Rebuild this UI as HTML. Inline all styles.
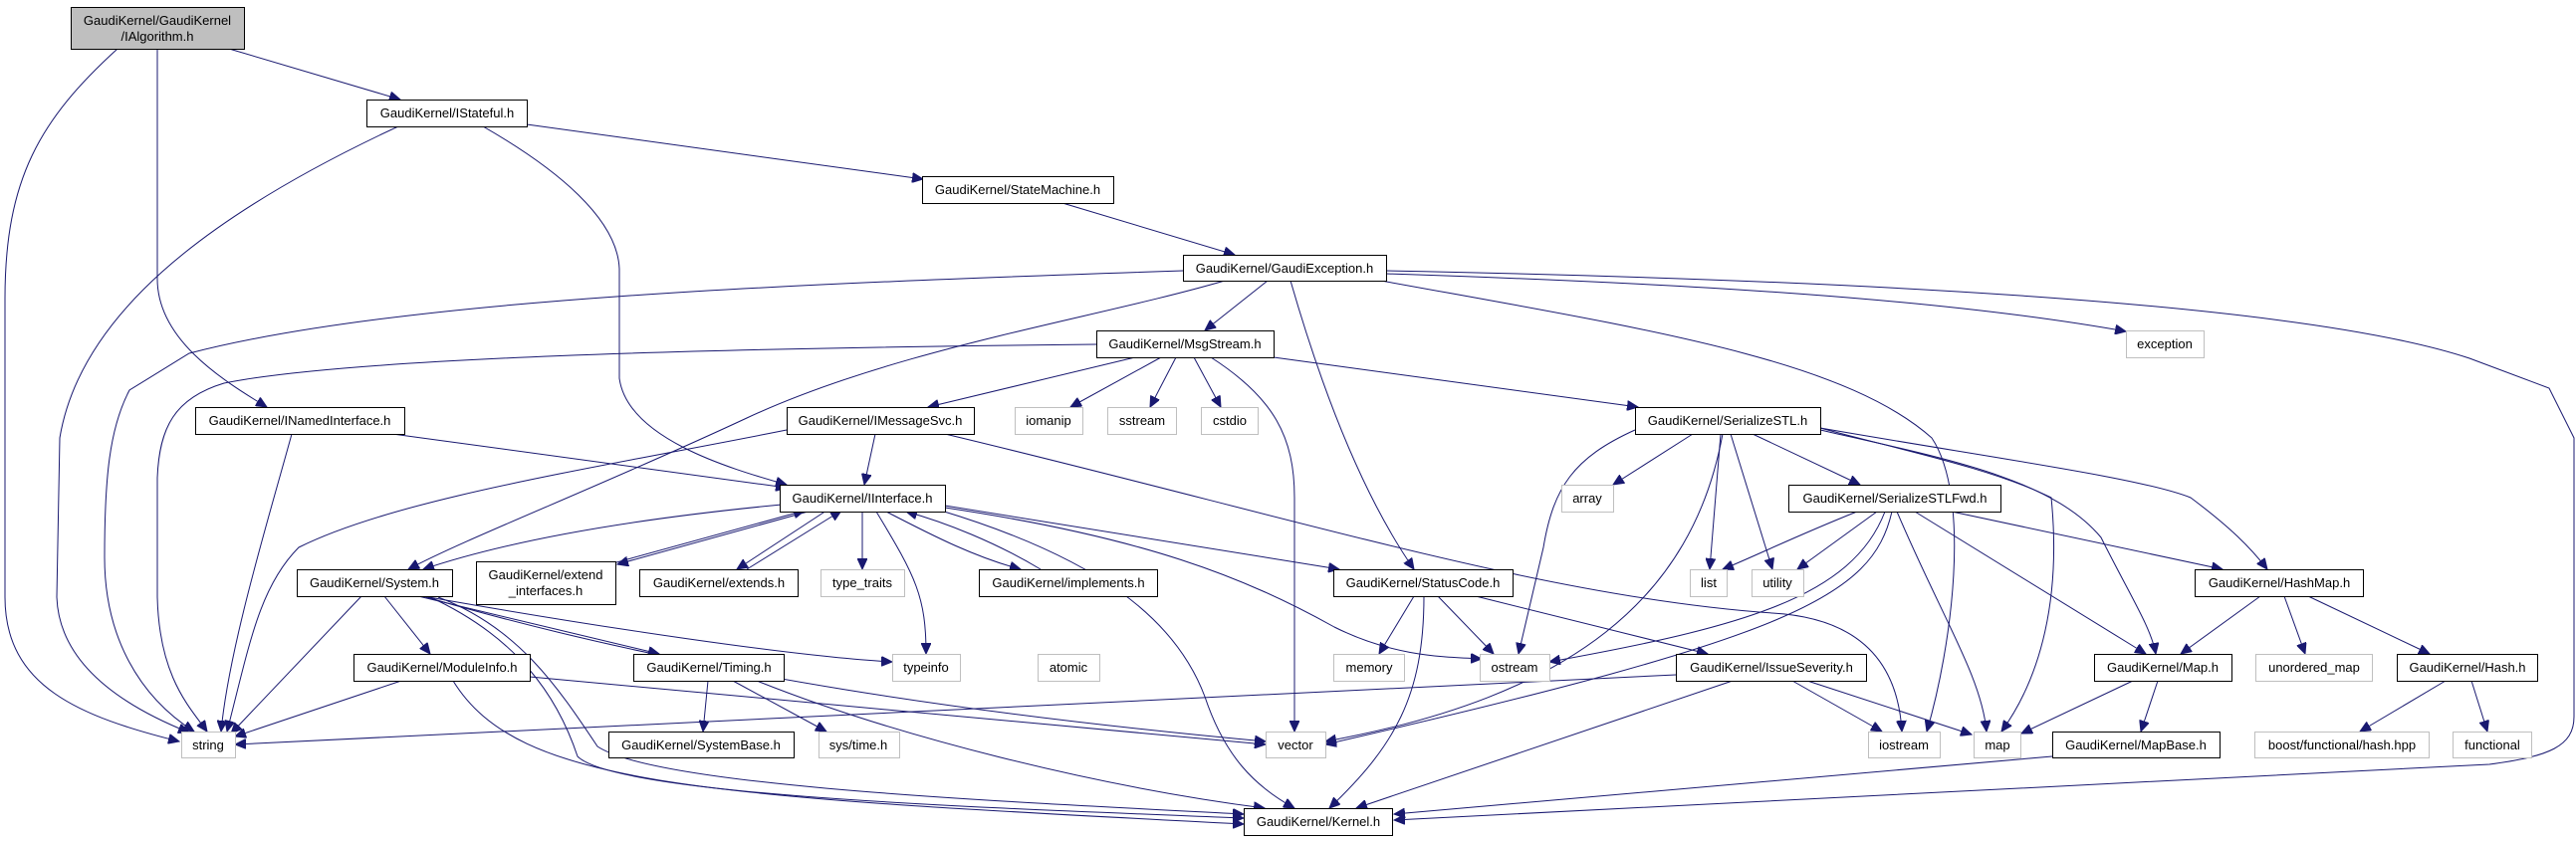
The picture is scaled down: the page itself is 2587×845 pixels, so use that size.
<!DOCTYPE html>
<html><head><meta charset="utf-8"><style>
html,body{margin:0;padding:0;background:#fff;}
svg{display:block;}
text{font-family:"Liberation Sans",sans-serif;font-size:13px;fill:#000;}
.n{fill:#fff;stroke:#000;stroke-width:1;}
.g{fill:#fff;stroke:#bfbfbf;stroke-width:1;}
.e{fill:none;stroke:#191970;stroke-width:1;marker-end:url(#a);}
</style></head><body>
<svg width="2587" height="845" viewBox="0 0 2587 845" xmlns="http://www.w3.org/2000/svg">
<defs><marker id="a" markerUnits="userSpaceOnUse" markerWidth="12" markerHeight="10" refX="11" refY="5" orient="auto"><path d="M0,0 L11,5 L0,10 z" fill="#191970" stroke="#191970"/></marker></defs>
<g>
<path class="e" d="M118,49 C40,120 5,180 5,300 L5,600 C5,690 80,720 180,745"/>
<path class="e" d="M158,49 L158,280 C158,340 220,380 268,409"/>
<path class="e" d="M230,49 L402,100"/>
<path class="e" d="M400,127 C200,220 80,320 60,440 L57,600 C60,680 150,720 190,736"/>
<path class="e" d="M485,127 C560,170 620,220 622,270 L622,380 C630,440 730,470 790,487"/>
<path class="e" d="M529,125 L927,180"/>
<path class="e" d="M1067,204 L1240,256"/>
<path class="e" d="M1188,272 C800,285 400,300 190,355 L130,392 C110,430 105,480 105,560 C105,640 140,700 195,735"/>
<path class="e" d="M1101,346 C700,350 350,360 225,385 C175,400 160,430 158,480 L158,600 C160,680 190,710 208,735"/>
<path class="e" d="M1230,282 C1100,320 900,350 750,420 C600,490 470,540 410,572"/>
<path class="e" d="M1273,282 L1210,332"/>
<path class="e" d="M1296,282 C1330,400 1370,500 1420,572"/>
<path class="e" d="M1387,282 C1650,330 1850,360 1940,440 C1980,500 1960,650 1935,735"/>
<path class="e" d="M1392,275 C1700,285 1950,300 2135,333"/>
<path class="e" d="M1392,272 C1800,280 2300,300 2480,360 L2560,390 L2585,440 L2585,720 C2585,750 2560,760 2500,768 L1400,824"/>
<path class="e" d="M1140,359 L932,409"/>
<path class="e" d="M1166,359 L1075,409"/>
<path class="e" d="M1181,359 L1155,409"/>
<path class="e" d="M1199,359 L1226,409"/>
<path class="e" d="M1216,359 C1280,400 1300,440 1300,500 L1300,735"/>
<path class="e" d="M1279,359 L1645,409"/>
<path class="e" d="M293,436 C270,520 230,650 222,735"/>
<path class="e" d="M394,436 L790,490"/>
<path class="e" d="M790,432 C600,470 400,500 300,550 C260,590 250,650 228,735"/>
<path class="e" d="M879,436 L868,487"/>
<path class="e" d="M949,436 C1300,520 1550,600 1780,616 C1850,620 1905,650 1910,735"/>
<path class="e" d="M785,507 C650,520 520,540 425,572"/>
<path class="e" d="M815,513 L620,567"/>
<path class="e" d="M612,567 L808,513"/>
<path class="e" d="M830,513 L740,572"/>
<path class="e" d="M750,572 L845,513"/>
<path class="e" d="M866,514 L866,572"/>
<path class="e" d="M880,514 C920,580 930,600 930,657"/>
<path class="e" d="M890,514 C940,540 980,560 1025,572"/>
<path class="e" d="M1045,572 C1000,545 950,525 910,514"/>
<path class="e" d="M949,508 L1345,572"/>
<path class="e" d="M949,510 C1150,540 1250,580 1340,630 C1400,660 1450,660 1488,662"/>
<path class="e" d="M945,513 C1100,560 1180,620 1210,700 C1230,760 1260,790 1300,812"/>
<path class="e" d="M1700,436 L1620,487"/>
<path class="e" d="M1642,432 C1580,460 1560,490 1550,550 L1525,657"/>
<path class="e" d="M1730,436 C1700,600 1580,700 1331,745"/>
<path class="e" d="M1728,436 L1717,572"/>
<path class="e" d="M1738,436 L1780,572"/>
<path class="e" d="M1760,436 L1868,487"/>
<path class="e" d="M1828,430 C1900,450 2000,470 2060,500 C2070,600 2050,680 2010,735"/>
<path class="e" d="M1828,432 C1950,460 2060,480 2110,540 C2140,600 2160,630 2165,657"/>
<path class="e" d="M1828,430 C2000,460 2150,480 2200,500 C2240,530 2260,550 2277,572"/>
<path class="e" d="M1865,514 C1800,540 1760,560 1730,572"/>
<path class="e" d="M1885,514 L1805,572"/>
<path class="e" d="M1893,514 C1860,600 1750,630 1556,665"/>
<path class="e" d="M1900,514 C1880,600 1800,640 1331,748"/>
<path class="e" d="M1905,514 C1950,620 1990,680 1995,735"/>
<path class="e" d="M1923,514 L2155,657"/>
<path class="e" d="M1960,514 L2232,572"/>
<path class="e" d="M363,599 L232,737"/>
<path class="e" d="M386,599 L432,657"/>
<path class="e" d="M420,599 L662,657"/>
<path class="e" d="M425,599 C600,630 800,660 896,665"/>
<path class="e" d="M425,599 C700,680 1000,720 1271,745"/>
<path class="e" d="M430,599 C520,640 560,700 580,760 C620,800 1000,812 1249,822"/>
<path class="e" d="M440,600 C520,630 560,690 600,750 C660,790 1000,805 1249,818"/>
<path class="e" d="M403,684 L236,740"/>
<path class="e" d="M532,680 L1271,748"/>
<path class="e" d="M455,684 C520,790 700,800 1249,828"/>
<path class="e" d="M711,684 L706,735"/>
<path class="e" d="M736,684 L830,735"/>
<path class="e" d="M760,684 C900,740 1100,790 1270,812"/>
<path class="e" d="M1420,599 L1385,657"/>
<path class="e" d="M1444,599 L1500,657"/>
<path class="e" d="M1430,599 C1430,700 1400,750 1335,812"/>
<path class="e" d="M1482,599 L1715,657"/>
<path class="e" d="M1683,678 L236,748"/>
<path class="e" d="M1740,684 L1362,812"/>
<path class="e" d="M1800,684 L1890,735"/>
<path class="e" d="M1815,684 L1980,738"/>
<path class="e" d="M2270,599 L2190,657"/>
<path class="e" d="M2294,599 L2315,657"/>
<path class="e" d="M2318,599 L2440,657"/>
<path class="e" d="M2142,684 L2030,737"/>
<path class="e" d="M2167,684 L2150,735"/>
<path class="e" d="M2456,684 L2370,735"/>
<path class="e" d="M2482,684 L2498,735"/>
<path class="e" d="M2061,760 L1400,818"/>
</g>
<g text-anchor="middle">
<rect x="71.5" y="7.5" width="174" height="42" fill="#bfbfbf" stroke="#000"/>
<text x="158" y="25">GaudiKernel/GaudiKernel</text><text x="158" y="41">/IAlgorithm.h</text>
<rect class="n" x="368.5" y="100.5" width="161" height="27"/><text x="449" y="118">GaudiKernel/IStateful.h</text>
<rect class="n" x="926.5" y="177.5" width="192" height="27"/><text x="1022" y="195">GaudiKernel/StateMachine.h</text>
<rect class="n" x="1188.5" y="256.5" width="204" height="26"/><text x="1290" y="274">GaudiKernel/GaudiException.h</text>
<rect class="n" x="1101.5" y="332.5" width="178" height="27"/><text x="1190" y="350">GaudiKernel/MsgStream.h</text>
<rect class="g" x="2135.5" y="332.5" width="78" height="27"/><text x="2174" y="350">exception</text>
<rect class="n" x="196.5" y="409.5" width="210" height="27"/><text x="301" y="427">GaudiKernel/INamedInterface.h</text>
<rect class="n" x="790.5" y="409.5" width="188" height="27"/><text x="884" y="427">GaudiKernel/IMessageSvc.h</text>
<rect class="g" x="1019.5" y="409.5" width="68" height="27"/><text x="1053" y="427">iomanip</text>
<rect class="g" x="1112.5" y="409.5" width="69" height="27"/><text x="1147" y="427">sstream</text>
<rect class="g" x="1206.5" y="409.5" width="57" height="27"/><text x="1235" y="427">cstdio</text>
<rect class="n" x="1642.5" y="409.5" width="186" height="27"/><text x="1735" y="427">GaudiKernel/SerializeSTL.h</text>
<rect class="n" x="783.5" y="487.5" width="166" height="27"/><text x="866" y="505">GaudiKernel/IInterface.h</text>
<rect class="g" x="1568.5" y="487.5" width="52" height="27"/><text x="1594" y="505">array</text>
<rect class="n" x="1796.5" y="487.5" width="213" height="27"/><text x="1903" y="505">GaudiKernel/SerializeSTLFwd.h</text>
<rect class="n" x="298.5" y="572.5" width="156" height="27"/><text x="376" y="590">GaudiKernel/System.h</text>
<rect class="n" x="478.5" y="564.5" width="140" height="43"/><text x="548" y="582">GaudiKernel/extend</text><text x="548" y="598">_interfaces.h</text>
<rect class="n" x="642.5" y="572.5" width="159" height="27"/><text x="722" y="590">GaudiKernel/extends.h</text>
<rect class="g" x="824.5" y="572.5" width="84" height="27"/><text x="866" y="590">type_traits</text>
<rect class="n" x="983.5" y="572.5" width="179" height="27"/><text x="1073" y="590">GaudiKernel/implements.h</text>
<rect class="n" x="1339.5" y="572.5" width="180" height="27"/><text x="1429" y="590">GaudiKernel/StatusCode.h</text>
<rect class="g" x="1697.5" y="572.5" width="37" height="27"/><text x="1716" y="590">list</text>
<rect class="g" x="1759.5" y="572.5" width="52" height="27"/><text x="1785" y="590">utility</text>
<rect class="n" x="2204.5" y="572.5" width="169" height="27"/><text x="2289" y="590">GaudiKernel/HashMap.h</text>
<rect class="n" x="355.5" y="657.5" width="177" height="27"/><text x="444" y="675">GaudiKernel/ModuleInfo.h</text>
<rect class="n" x="636.5" y="657.5" width="151" height="27"/><text x="712" y="675">GaudiKernel/Timing.h</text>
<rect class="g" x="896.5" y="657.5" width="68" height="27"/><text x="930" y="675">typeinfo</text>
<rect class="g" x="1042.5" y="657.5" width="62" height="27"/><text x="1073" y="675">atomic</text>
<rect class="g" x="1339.5" y="657.5" width="71" height="27"/><text x="1375" y="675">memory</text>
<rect class="g" x="1486.5" y="657.5" width="70" height="27"/><text x="1521" y="675">ostream</text>
<rect class="n" x="1683.5" y="657.5" width="191" height="27"/><text x="1779" y="675">GaudiKernel/IssueSeverity.h</text>
<rect class="n" x="2103.5" y="657.5" width="138" height="27"/><text x="2172" y="675">GaudiKernel/Map.h</text>
<rect class="g" x="2265.5" y="657.5" width="117" height="27"/><text x="2324" y="675">unordered_map</text>
<rect class="n" x="2407.5" y="657.5" width="141" height="27"/><text x="2478" y="675">GaudiKernel/Hash.h</text>
<rect class="g" x="182.5" y="735.5" width="54" height="26"/><text x="209" y="753">string</text>
<rect class="n" x="611.5" y="735.5" width="186" height="26"/><text x="704" y="753">GaudiKernel/SystemBase.h</text>
<rect class="g" x="822.5" y="735.5" width="81" height="26"/><text x="862" y="753">sys/time.h</text>
<rect class="g" x="1271.5" y="735.5" width="60" height="26"/><text x="1301" y="753">vector</text>
<rect class="g" x="1876.5" y="735.5" width="72" height="26"/><text x="1912" y="753">iostream</text>
<rect class="g" x="1982.5" y="735.5" width="47" height="26"/><text x="2006" y="753">map</text>
<rect class="n" x="2061.5" y="735.5" width="168" height="26"/><text x="2145" y="753">GaudiKernel/MapBase.h</text>
<rect class="g" x="2264.5" y="735.5" width="175" height="26"/><text x="2352" y="753">boost/functional/hash.hpp</text>
<rect class="g" x="2463.5" y="735.5" width="79" height="26"/><text x="2503" y="753">functional</text>
<rect class="n" x="1249.5" y="812.5" width="149" height="27"/><text x="1324" y="830">GaudiKernel/Kernel.h</text>
</g>
</svg>
</body></html>
